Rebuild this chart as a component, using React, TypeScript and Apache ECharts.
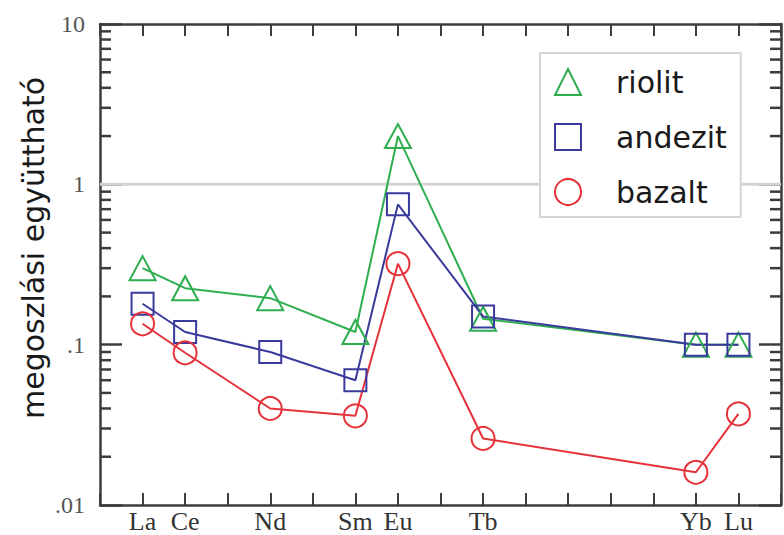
import React, { useEffect, useRef } from "react";
import * as echarts from "echarts";

// Rare earth elements (x positions = atomic numbers)
const elements = ["La", "Ce", "Nd", "Sm", "Eu", "Tb", "Yb", "Lu"];
const atomicNumbers = [57, 58, 60, 62, 63, 65, 70, 71];

// Partition coefficients
const riolit = [0.3, 0.225, 0.195, 0.12, 2.0, 0.145, 0.1, 0.1];
const andezit = [0.18, 0.12, 0.09, 0.06, 0.75, 0.15, 0.1, 0.1];
const bazalt = [0.135, 0.089, 0.04, 0.036, 0.32, 0.026, 0.016, 0.037];

// Y tick labels per decade (0.01 .. 10)
const yTickLabels = [".01", ".1", "1", "10"];
const minorTickValues = [
  0.02, 0.03, 0.04, 0.05, 0.06, 0.07, 0.08, 0.09,
  0.2, 0.3, 0.4, 0.5, 0.6, 0.7, 0.8, 0.9,
  2, 3, 4, 5, 6, 7, 8, 9,
];

const GREEN = "#2fae50";
const BLUE = "#3a3a9c";
const RED = "#e5323a";
const AXIS = "#3c3c3c";
const SANS = "'DejaVu Sans', sans-serif";
const SERIF = "'Liberation Serif', 'Times New Roman', serif";

const toPairs = (vals: number[]) => vals.map((v, i) => [atomicNumbers[i], v]);

export default function App() {
  const ref = useRef<HTMLDivElement>(null);

  useEffect(() => {
    if (!ref.current) return;
    const chart = echarts.init(ref.current, null, { renderer: "svg" });

    const lineSeries = (name: string, vals: number[], color: string, symbol: string, size: any) => ({
      name,
      type: "line",
      data: toPairs(vals),
      color,
      symbol,
      symbolSize: size,
      lineStyle: { color, width: 2 },
      itemStyle: { color: "rgba(255,255,255,0)", borderColor: color, borderWidth: 2 },
      z: 3,
    });

    chart.setOption({
      animation: false,
      backgroundColor: "#ffffff",
      grid: { left: 100, right: -4, top: 24, bottom: 30, containLabel: false },
      xAxis: [
        {
          type: "value",
          position: "bottom",
          min: 56,
          max: 72,
          interval: 1,
          axisLine: { show: true, lineStyle: { color: AXIS, width: 2.5 } },
          axisTick: { show: true, inside: true, length: 12, lineStyle: { color: AXIS, width: 2 } },
          axisLabel: {
            margin: 3,
            fontFamily: SERIF,
            fontSize: 26,
            color: "#333",
            formatter: (v: number) => {
              const i = atomicNumbers.indexOf(Math.round(v));
              return i >= 0 ? elements[i] : "";
            },
          },
          splitLine: { show: false },
        },
        {
          type: "value",
          position: "top",
          min: 56,
          max: 72,
          interval: 1,
          axisLine: { show: true, lineStyle: { color: AXIS, width: 2.5 } },
          axisTick: { show: true, inside: true, length: 12, lineStyle: { color: AXIS, width: 2 } },
          axisLabel: { show: false },
          splitLine: { show: false },
        },
      ],
      yAxis: [
        {
          type: "log",
          logBase: 10,
          position: "left",
          min: 0.01,
          max: 10,
          axisLine: { show: true, lineStyle: { color: AXIS, width: 2.5 } },
          axisTick: { show: true, inside: true, length: 22, lineStyle: { color: AXIS, width: 2.5 } },
          axisLabel: {
            margin: 15,
            fontFamily: SERIF,
            fontSize: 24,
            color: "#555",
            formatter: (v: number) => {
              const i = Math.round(Math.log10(v)) + 2;
              return yTickLabels[i] ?? "";
            },
          },
          splitLine: { show: false },
        },
        {
          type: "log",
          logBase: 10,
          position: "right",
          min: 0.01,
          max: 10,
          axisLine: { show: true, lineStyle: { color: AXIS, width: 2.5 } },
          axisTick: { show: true, inside: true, length: 22, lineStyle: { color: AXIS, width: 2.5 } },
          axisLabel: { show: false },
          splitLine: { show: false },
        },
      ],
      legend: {
        orient: "vertical",
        left: 540,
        top: 53,
        padding: [14, 14, 10, 14],
        itemWidth: 26,
        itemHeight: 26,
        itemGap: 25,
        backgroundColor: "#ffffff",
        borderColor: "#d6d6d6",
        borderWidth: 2,
        borderRadius: 0,
        z: 10,
        textStyle: {
          fontFamily: SANS,
          fontSize: 30,
          lineHeight: 30,
          color: "#1a1a1a",
          padding: [0, 0, 0, 30],
        },
        data: [
          { name: "riolit", icon: "triangle", itemStyle: { color: "rgba(255,255,255,0)", borderColor: GREEN, borderWidth: 2 } },
          { name: "andezit", icon: "rect", itemStyle: { color: "rgba(255,255,255,0)", borderColor: BLUE, borderWidth: 2 } },
          { name: "bazalt", icon: "circle", itemStyle: { color: "rgba(255,255,255,0)", borderColor: RED, borderWidth: 2 } },
        ],
      },
      graphic: [
        {
          type: "text",
          x: 33,
          y: 248,
          rotation: Math.PI / 2,
          style: {
            text: "megoszlási együttható",
            font: `30px ${SANS}`,
            fill: "#1a1a1a",
            align: "center",
            verticalAlign: "middle",
          },
        },
      ],
      series: [
        {
          name: "ref1",
          type: "line",
          data: [[56, 1], [72, 1]],
          symbol: "none",
          silent: true,
          lineStyle: { color: "#d4d4d4", width: 3 },
          z: 1,
        },
        {
          name: "minorTicks",
          type: "custom",
          silent: true,
          z: 5,
          data: minorTickValues.map((v) => [56, v]),
          renderItem: (params: any, api: any) => {
            const cs = params.coordSys;
            const y = api.coord([api.value(0), api.value(1)])[1];
            const style = { stroke: AXIS, lineWidth: 2.5 };
            return {
              type: "group",
              children: [
                { type: "line", shape: { x1: cs.x, y1: y, x2: cs.x + 11, y2: y }, style },
                { type: "line", shape: { x1: cs.x + cs.width - 11, y1: y, x2: cs.x + cs.width, y2: y }, style },
              ],
            };
          },
        },
        lineSeries("riolit", riolit, GREEN, "triangle", [26, 24]),
        lineSeries("andezit", andezit, BLUE, "rect", 22),
        lineSeries("bazalt", bazalt, RED, "circle", 23),
      ],
    });

    return () => chart.dispose();
  }, []);

  return (
    <div
      ref={ref}
      style={{ position: "fixed", left: 0, top: 0, width: 784, height: 535, background: "#fff" }}
    />
  );
}
